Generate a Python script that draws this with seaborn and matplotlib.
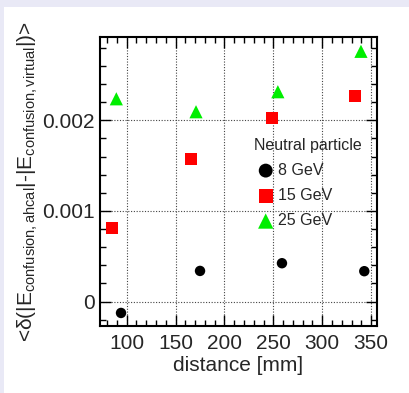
import matplotlib
matplotlib.use("Agg")
import matplotlib.pyplot as plt
from matplotlib.patches import Rectangle
from matplotlib.ticker import MultipleLocator
import seaborn as sns
import pandas as pd

# Distance between particles [mm] and mean energy-confusion difference
dist_8 = [94.2, 175.0, 258.8, 343.0]
val_8 = [-0.000126, 0.000338, 0.000423, 0.000335]
dist_15 = [85.3, 165.4, 249.0, 333.1]
val_15 = [0.000813, 0.001576, 0.002025, 0.002268]
dist_25 = [89.4, 170.9, 254.6, 339.6]
val_25 = [0.002238, 0.002095, 0.002316, 0.002762]
energies = ["8 GeV", "15 GeV", "25 GeV"]

df = pd.concat([
    pd.DataFrame({"distance": dist_8, "value": val_8, "energy": energies[0]}),
    pd.DataFrame({"distance": dist_15, "value": val_15, "energy": energies[1]}),
    pd.DataFrame({"distance": dist_25, "value": val_25, "energy": energies[2]}),
])

sns.set_theme(style="ticks")
plt.rcParams["font.family"] = ["Liberation Sans", "DejaVu Sans"]
plt.rcParams["mathtext.fontset"] = "custom"
plt.rcParams["mathtext.rm"] = "Liberation Sans"
plt.rcParams["mathtext.it"] = "Liberation Sans"

fig = plt.figure(figsize=(4.09, 3.93), dpi=100, facecolor="#e9e9f6")
panel = Rectangle((4 / 409, 0), 1, (393 - 7) / 393,
                  transform=fig.transFigure, facecolor="white",
                  edgecolor="none", zorder=-10)
fig.add_artist(panel)
ax = fig.add_axes([100 / 409, 1 - 326 / 393, 277 / 409, 289 / 393])
ax.set_facecolor("white")

palette = {"8 GeV": "black", "15 GeV": "#ff0000", "25 GeV": "#00ee00"}
markers = {"8 GeV": "o", "15 GeV": "s", "25 GeV": "^"}
sizes = {"8 GeV": 7.5, "15 GeV": 8.5, "25 GeV": 9.5}
for e in energies:
    sub = df[df["energy"] == e]
    sns.scatterplot(data=sub, x="distance", y="value", color=palette[e],
                    marker=markers[e], s=sizes[e] ** 2, edgecolor="none",
                    label=e, ax=ax, zorder=3)

ax.set_xlim(72.7, 356)
ax.set_ylim(-0.00027, 0.00292)
ax.xaxis.set_major_locator(MultipleLocator(50))
ax.xaxis.set_minor_locator(MultipleLocator(10))
ax.yaxis.set_major_locator(MultipleLocator(0.001))
ax.yaxis.set_minor_locator(MultipleLocator(0.0002))
ax.set_yticks([0, 0.001, 0.002])
ax.set_yticklabels(["0", "0.001", "0.002"])
ax.set_xticks([100, 150, 200, 250, 300, 350])
ax.grid(True, which="major", color="#444444", linestyle=(0, (1, 1.5)), linewidth=0.8)
ax.tick_params(which="both", direction="in", top=True, right=True, labelsize=15,
               color="black")
ax.tick_params(axis="x", pad=6)
ax.tick_params(axis="y", pad=4)
ax.tick_params(which="major", length=8, width=1)
ax.tick_params(which="minor", length=4, width=1)
for s in ax.spines.values():
    s.set_linewidth(1.5)
    s.set_color("black")

ax.set_xlabel("distance [mm]", fontsize=15, labelpad=2)
ax.set_ylabel(r"<$\delta$(|E$_{\mathrm{confusion,ahcal}}$|-|E$_{\mathrm{confusion,virtual}}$|)>",
              fontsize=15, labelpad=1)

leg = ax.legend(title="Neutral particle", frameon=False, fontsize=11.5,
                title_fontsize=11.5, loc="upper left",
                bbox_to_anchor=(0.555, 0.652), handletextpad=0.0,
                borderaxespad=0, borderpad=0, labelspacing=0.64,
                handlelength=1.5)
leg._legend_box.align = "left"
for h, sz in zip(leg.legend_handles, [10.0, 10.0, 11.0]):
    h.set_sizes([sz ** 2])

fig.savefig("out.png", dpi=100, facecolor=fig.get_facecolor())
